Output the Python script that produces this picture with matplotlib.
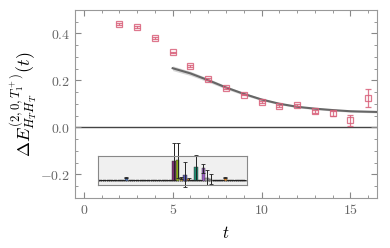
import numpy as np
import matplotlib
matplotlib.use('Agg')
import matplotlib.pyplot as plt

plt.rcParams['mathtext.fontset'] = 'cm'
plt.rcParams['font.family'] = 'serif'
plt.rcParams['font.serif'] = ['DejaVu Serif']

# effective energy data
t = [2, 3, 4, 5, 6, 7, 8, 9, 10, 11, 12, 13, 14, 15, 16]
dE = [0.440, 0.428, 0.382, 0.319, 0.261, 0.206, 0.167, 0.140, 0.108, 0.092, 0.095, 0.069, 0.060, 0.030, 0.125]
dE_err = [0.004, 0.004, 0.004, 0.004, 0.004, 0.004, 0.004, 0.004, 0.004, 0.004, 0.005, 0.006, 0.012, 0.024, 0.040]

# fit curve
t_fit = [5, 6, 7, 8, 9, 10, 11, 12, 13, 14, 15, 16, 16.5]
fit = [0.252, 0.230, 0.201, 0.170, 0.143, 0.119, 0.101, 0.088, 0.080, 0.074, 0.069, 0.067, 0.066]
fit_err = [0.010, 0.009, 0.008, 0.007, 0.006, 0.005, 0.004, 0.004, 0.004, 0.004, 0.004, 0.004, 0.004]

# inset: overlap-like bars (pixel-ish units)
n_ins = 40
inset_h = [0.6]*n_ins
inset_e = [0.4]*n_ins
for i, h, e in [(7, 3, 0.6), (20, 19, 18), (21, 20, 17), (22, 3, 1), (23, 6, 12),
                (24, 2, 1), (26, 13, 12), (28, 12, 4), (29, 3, 7), (30, 2, 5), (34, 3, 0.6)]:
    inset_h[i] = h
    inset_e[i] = e
palette = ['#5e3c99', '#3a5fa8', '#d98c2b', '#6a8f2a', '#1f8a70', '#9a5fc0', '#8a8a8a', '#a33a3a']
inset_c = [palette[i % len(palette)] for i in range(n_ins)]
for i, c in [(7, '#4a6ea8'), (20, '#7a2f6e'), (21, '#8aa61e'), (22, '#c8a040'), (23, '#5a5ab0'),
             (24, '#d98c2b'), (26, '#1f8a70'), (28, '#9a5fc0'), (29, '#aaaaaa'), (30, '#999999'), (34, '#e08a30')]:
    inset_c[i] = c

fig = plt.figure(figsize=(3.9, 2.48), dpi=100)
ax = fig.add_axes([0.192, 0.2016, 0.775, 0.7584])

ax.axhline(0, color='#444444', lw=1.0, zorder=1)
ax.fill_between(t_fit, np.array(fit) - np.array(fit_err), np.array(fit) + np.array(fit_err),
                color='#bbbbbb', alpha=0.6, lw=0, zorder=2)
ax.plot(t_fit, fit, color='#666666', lw=1.5, zorder=3)
ax.errorbar(t, dE, yerr=dE_err, fmt='s', mfc='none', mec='#d9607a', ecolor='#d9607a',
            ms=5, mew=0.9, elinewidth=0.9, capsize=2.5, capthick=0.9, alpha=0.85, zorder=4)

ax.set_xlim(-0.5, 16.5)
ax.set_ylim(-0.3, 0.5)
ax.set_xticks([0, 5, 10, 15])
ax.set_xticks(np.arange(0, 17, 1), minor=True)
ax.set_yticks([-0.2, 0.0, 0.2, 0.4])
ax.set_yticks(np.arange(-0.3, 0.51, 0.05), minor=True)
ax.set_xticklabels(['$0$', '$5$', '$10$', '$15$'])
ax.set_yticklabels(['$-0.2$', '$0.0$', '$0.2$', '$0.4$'])
ax.tick_params(which='both', direction='in', top=True, right=True, colors='#888888',
               labelcolor='#666666', labelsize=10)
ax.tick_params(which='major', length=4)
ax.tick_params(which='minor', length=2)
for s in ax.spines.values():
    s.set_color('#999999')
ax.set_xlabel('$t$', fontsize=12, labelpad=6)
ax.set_ylabel(r'$\Delta E^{(2,0,T_1^+)}_{H_T H_T}(t)$', fontsize=13, labelpad=1)

ins = ax.inset_axes([0.79, -0.243, 8.37, 0.12], transform=ax.transData)
ins.set_facecolor('#f0f0f0')
for s in ins.spines.values():
    s.set_color('#888888')
    s.set_linewidth(0.8)
idx = np.arange(n_ins)
ins.axhline(0, color='#666666', lw=0.5, ls=(0, (2, 1)))
ins.bar(idx, inset_h, width=0.85, color=inset_c, edgecolor='#333333', linewidth=0.3)
ins.errorbar(idx, inset_h, yerr=inset_e, fmt='none', ecolor='#222222', elinewidth=0.7,
             capsize=1.2, capthick=0.6, clip_on=False)
ins.set_xlim(-0.8, n_ins - 0.2)
ins.set_ylim(-4, 24)
ins.set_xticks([])
ins.set_yticks([])
for art in ins.get_children():
    try:
        art.set_clip_on(False)
    except Exception:
        pass

fig.savefig('out.png', dpi=100)
